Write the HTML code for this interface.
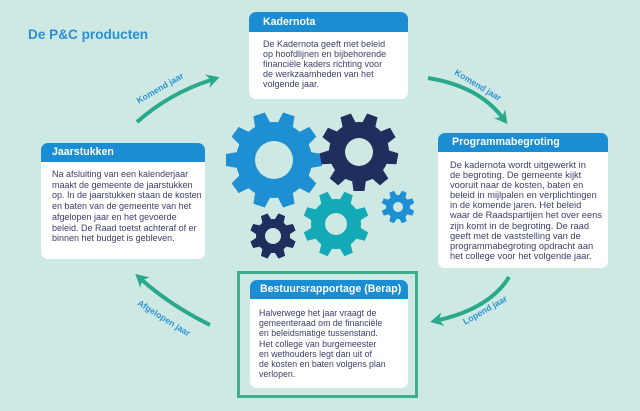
<!DOCTYPE html>
<html><head><meta charset="utf-8">
<style>
html,body{margin:0;padding:0;}
body{width:640px;height:411px;background:#cee9e4;position:relative;overflow:hidden;font-family:"Liberation Sans",Arial,sans-serif;}
.box{position:absolute;background:#fff;border-radius:7px;overflow:hidden;}
.hd{position:absolute;left:0;top:0;right:0;background:#1b8ed3;color:#fff;font-weight:bold;font-size:10.6px;white-space:nowrap;}
.tx{position:absolute;color:#3d406b;white-space:nowrap;}
.title{position:absolute;left:28px;top:27px;font-size:13.6px;line-height:16px;font-weight:bold;color:#2a8fd4;white-space:nowrap;}
.frame{position:absolute;left:237px;top:271px;width:181px;height:127px;border:3px solid #3fae8c;box-sizing:border-box;}
svg{position:absolute;left:0;top:0;}
</style></head><body>
<svg width="640" height="411" viewBox="0 0 640 411">
<defs>
<marker id="ah" markerUnits="userSpaceOnUse" markerWidth="16" markerHeight="14" refX="4" refY="7" orient="auto" viewBox="0 0 16 14">
<path d="M0,0 L13,7 L0,14 L4,7 z" fill="#2aa98a"/>
</marker>
</defs>
<g fill="none" stroke="#2aa98a" stroke-width="4" marker-end="url(#ah)">
<path d="M137,122 Q170,93 211,80"/>
<path d="M428,78 Q478,86 502,117"/>
<path d="M509,277 Q490,308 439,320"/>
<path d="M210,325 Q170,305 142,280"/>
</g>
<g fill="#2f93d6" font-family="Liberation Sans, Arial, sans-serif" font-weight="bold" font-size="8.7" text-anchor="middle" dominant-baseline="central">
<text transform="translate(160,88) rotate(-30)">Komend jaar</text>
<text transform="translate(478,85) rotate(31)">Komend jaar</text>
<text transform="translate(485,310) rotate(-30)">Lopend jaar</text>
<text transform="translate(164,318) rotate(32)">Afgelopen jaar</text>
</g>
<g transform="translate(274,160)" fill="#1e8fd3">
<circle r="38"/>
<polygon points="-8,-36 8,-36 6,-48 -6,-48" transform="rotate(18)"/>
<polygon points="-8,-36 8,-36 6,-48 -6,-48" transform="rotate(54)"/>
<polygon points="-8,-36 8,-36 6,-48 -6,-48" transform="rotate(90)"/>
<polygon points="-8,-36 8,-36 6,-48 -6,-48" transform="rotate(126)"/>
<polygon points="-8,-36 8,-36 6,-48 -6,-48" transform="rotate(162)"/>
<polygon points="-8,-36 8,-36 6,-48 -6,-48" transform="rotate(198)"/>
<polygon points="-8,-36 8,-36 6,-48 -6,-48" transform="rotate(234)"/>
<polygon points="-8,-36 8,-36 6,-48 -6,-48" transform="rotate(270)"/>
<polygon points="-8,-36 8,-36 6,-48 -6,-48" transform="rotate(306)"/>
<polygon points="-8,-36 8,-36 6,-48 -6,-48" transform="rotate(342)"/>
<circle r="19" fill="#cee9e4"/>
</g>
<g transform="translate(359,152)" fill="#1f2e5c">
<circle r="30"/>
<polygon points="-7,-28 7,-28 5.5,-39 -5.5,-39" transform="rotate(20)"/>
<polygon points="-7,-28 7,-28 5.5,-39 -5.5,-39" transform="rotate(60)"/>
<polygon points="-7,-28 7,-28 5.5,-39 -5.5,-39" transform="rotate(100)"/>
<polygon points="-7,-28 7,-28 5.5,-39 -5.5,-39" transform="rotate(140)"/>
<polygon points="-7,-28 7,-28 5.5,-39 -5.5,-39" transform="rotate(180)"/>
<polygon points="-7,-28 7,-28 5.5,-39 -5.5,-39" transform="rotate(220)"/>
<polygon points="-7,-28 7,-28 5.5,-39 -5.5,-39" transform="rotate(260)"/>
<polygon points="-7,-28 7,-28 5.5,-39 -5.5,-39" transform="rotate(300)"/>
<polygon points="-7,-28 7,-28 5.5,-39 -5.5,-39" transform="rotate(340)"/>
<circle r="14" fill="#cee9e4"/>
</g>
<g transform="translate(336,224)" fill="#13a9b6">
<circle r="25"/>
<polygon points="-6,-23 6,-23 4.5,-33 -4.5,-33" transform="rotate(22.5)"/>
<polygon points="-6,-23 6,-23 4.5,-33 -4.5,-33" transform="rotate(67.5)"/>
<polygon points="-6,-23 6,-23 4.5,-33 -4.5,-33" transform="rotate(112.5)"/>
<polygon points="-6,-23 6,-23 4.5,-33 -4.5,-33" transform="rotate(157.5)"/>
<polygon points="-6,-23 6,-23 4.5,-33 -4.5,-33" transform="rotate(202.5)"/>
<polygon points="-6,-23 6,-23 4.5,-33 -4.5,-33" transform="rotate(247.5)"/>
<polygon points="-6,-23 6,-23 4.5,-33 -4.5,-33" transform="rotate(292.5)"/>
<polygon points="-6,-23 6,-23 4.5,-33 -4.5,-33" transform="rotate(337.5)"/>
<circle r="11" fill="#cee9e4"/>
</g>
<g transform="translate(273,236)" fill="#1f2e5c">
<circle r="17"/>
<polygon points="-5,-15 5,-15 3.5,-23 -3.5,-23" transform="rotate(22.5)"/>
<polygon points="-5,-15 5,-15 3.5,-23 -3.5,-23" transform="rotate(67.5)"/>
<polygon points="-5,-15 5,-15 3.5,-23 -3.5,-23" transform="rotate(112.5)"/>
<polygon points="-5,-15 5,-15 3.5,-23 -3.5,-23" transform="rotate(157.5)"/>
<polygon points="-5,-15 5,-15 3.5,-23 -3.5,-23" transform="rotate(202.5)"/>
<polygon points="-5,-15 5,-15 3.5,-23 -3.5,-23" transform="rotate(247.5)"/>
<polygon points="-5,-15 5,-15 3.5,-23 -3.5,-23" transform="rotate(292.5)"/>
<polygon points="-5,-15 5,-15 3.5,-23 -3.5,-23" transform="rotate(337.5)"/>
<circle r="8" fill="#cee9e4"/>
</g>
<g transform="translate(398,207)" fill="#1e8fd3">
<circle r="12"/>
<polygon points="-3.5,-10 3.5,-10 2.5,-16.5 -2.5,-16.5" transform="rotate(22.5)"/>
<polygon points="-3.5,-10 3.5,-10 2.5,-16.5 -2.5,-16.5" transform="rotate(67.5)"/>
<polygon points="-3.5,-10 3.5,-10 2.5,-16.5 -2.5,-16.5" transform="rotate(112.5)"/>
<polygon points="-3.5,-10 3.5,-10 2.5,-16.5 -2.5,-16.5" transform="rotate(157.5)"/>
<polygon points="-3.5,-10 3.5,-10 2.5,-16.5 -2.5,-16.5" transform="rotate(202.5)"/>
<polygon points="-3.5,-10 3.5,-10 2.5,-16.5 -2.5,-16.5" transform="rotate(247.5)"/>
<polygon points="-3.5,-10 3.5,-10 2.5,-16.5 -2.5,-16.5" transform="rotate(292.5)"/>
<polygon points="-3.5,-10 3.5,-10 2.5,-16.5 -2.5,-16.5" transform="rotate(337.5)"/>
<circle r="5" fill="#cee9e4"/>
</g>
</svg>

<div class="title">De P&amp;C producten</div>

<div class="box" style="left:249px;top:12px;width:159px;height:87px;">
<div class="hd" style="height:20px;line-height:20px;padding-left:14px;">Kadernota</div>
<div class="tx" style="left:14px;top:27px;font-size:9px;line-height:10px;">De Kadernota geeft met beleid<br>op hoofdlijnen en bijbehorende<br>financiële kaders richting voor<br>de werkzaamheden van het<br>volgende jaar.</div>
</div>

<div class="box" style="left:438px;top:133px;width:170px;height:135px;">
<div class="hd" style="height:19px;line-height:19px;padding-left:14px;">Programmabegroting</div>
<div class="tx" style="left:12px;top:27px;font-size:9.3px;line-height:10.1px;">De kadernota wordt uitgewerkt in<br>de begroting. De gemeente kijkt<br>vooruit naar de kosten, baten en<br>beleid in mijlpalen en verplichtingen<br>in de komende jaren. Het beleid<br>waar de Raadspartijen het over eens<br>zijn komt in de begroting. De raad<br>geeft met de vaststelling van de<br>programmabegroting opdracht aan<br>het college voor het volgende jaar.</div>
</div>

<div class="box" style="left:41px;top:143px;width:164px;height:116px;">
<div class="hd" style="height:19px;line-height:19px;padding-left:11px;">Jaarstukken</div>
<div class="tx" style="left:11px;top:26px;font-size:9px;line-height:10.7px;">Na afsluiting van een kalenderjaar<br>maakt de gemeente de jaarstukken<br>op. In de jaarstukken staan de kosten<br>en baten van de gemeente van het<br>afgelopen jaar en het gevoerde<br>beleid. De Raad toetst achteraf of er<br>binnen het budget is gebleven.</div>
</div>

<div class="frame"></div>
<div class="box" style="left:250px;top:280px;width:158px;height:108px;">
<div class="hd" style="height:19px;line-height:19px;padding-left:10px;">Bestuursrapportage (Berap)</div>
<div class="tx" style="left:9px;top:28px;font-size:8.8px;line-height:10.2px;">Halverwege het jaar vraagt de<br>gemeenteraad om de financiële<br>en beleidsmatige tussenstand.<br>Het college van burgemeester<br>en wethouders legt dan uit of<br>de kosten en baten volgens plan<br>verlopen.</div>
</div>
</body></html>
